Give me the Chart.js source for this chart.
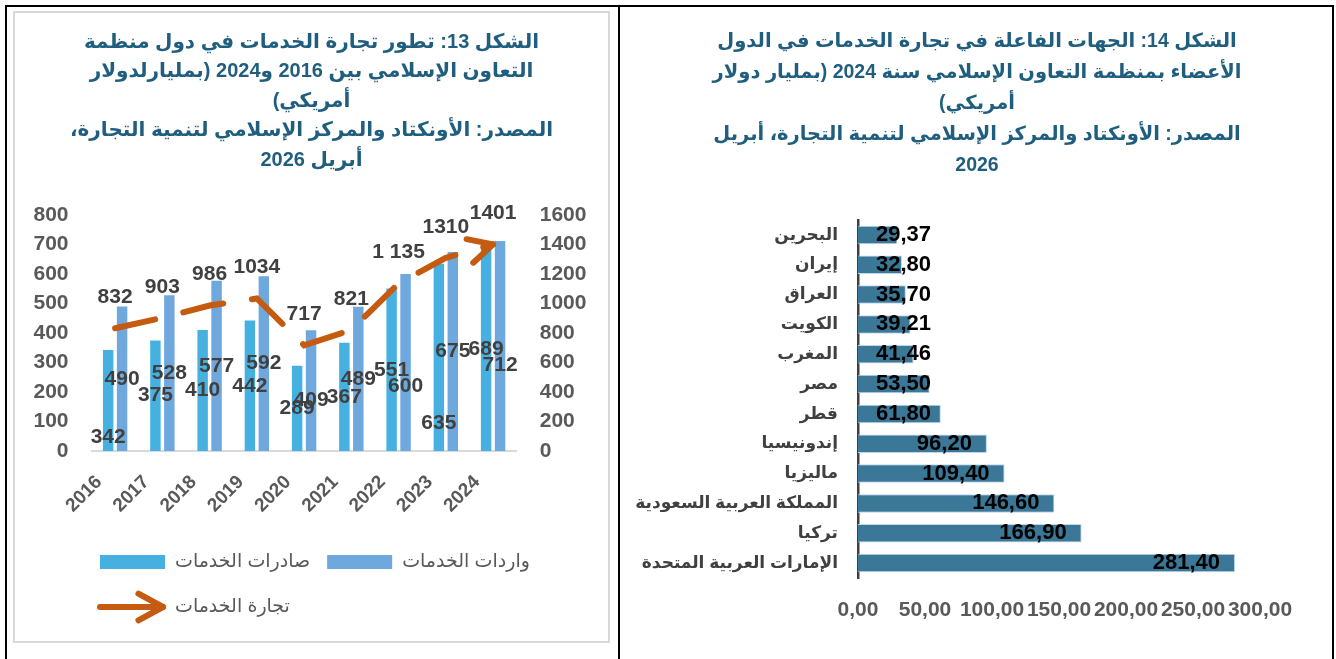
<!DOCTYPE html>
<html lang="ar">
<head>
<meta charset="utf-8">
<script src="https://cdn.jsdelivr.net/npm/chart.js@4.4.1/dist/chart.umd.min.js"></script>
<style>
  html, body { margin: 0; padding: 0; background: #fff; }
  body { width: 1336px; height: 659px; position: relative; overflow: hidden; }
  .frame { position: absolute; left: 5px; top: 5px; width: 1329px; height: 720px; border: 2px solid #000; border-bottom: none; box-sizing: border-box; }
  .divider { position: absolute; left: 618px; top: 5px; width: 2px; height: 720px; background: #000; }
  .box { position: absolute; left: 13px; top: 11px; width: 597px; height: 632px; border: 2px solid #d9d9d9; box-sizing: border-box; }
  canvas { position: absolute; direction: rtl; }
  #leftChart { left: 15px; top: 13px; }
  #rightChart { left: 622px; top: 8px; }
</style>
</head>
<body>
<div class="frame"></div>
<div class="divider"></div>
<div class="box"></div>
<canvas id="leftChart" width="593" height="628"></canvas>
<canvas id="rightChart" width="710" height="651"></canvas>
<script>
const FONT = "'Liberation Sans', 'DejaVu Sans', sans-serif";
Chart.defaults.font.family = FONT;

// figure 13 data
const years = ['2016', '2017', '2018', '2019', '2020', '2021', '2022', '2023', '2024'];
const serviceExports = [342, 375, 410, 442, 289, 367, 551, 635, 689];
const serviceImports = [490, 528, 577, 592, 409, 489, 600, 675, 712];
const serviceTrade = [832, 903, 986, 1034, 717, 821, 1135, 1310, 1401];
const tradeLabels = ['832', '903', '986', '1034', '717', '821', '1 135', '1310', '1401'];

const leftTitle = [
    'الشكل 13: تطور تجارة الخدمات في دول منظمة',
    'التعاون الإسلامي بين 2016 و2024 (بمليارلدولار',
    'أمريكي)',
    'المصدر: الأونكتاد والمركز الإسلامي لتنمية التجارة،',
    'أبريل 2026'
];

// figure 14 data
const countries = ['البحرين', 'إيران', 'العراق', 'الكويت', 'المغرب', 'مصر', 'قطر',
    'إندونيسيا', 'ماليزيا', 'المملكة العربية السعودية', 'تركيا', 'الإمارات العربية المتحدة'];
const countryValues = [29.37, 32.80, 35.70, 39.21, 41.46, 53.50, 61.80, 96.20, 109.40, 146.60, 166.90, 281.40];

const rightTitle = [
    'الشكل 14: الجهات الفاعلة في تجارة الخدمات في الدول',
    'الأعضاء بمنظمة التعاون الإسلامي سنة 2024 (بمليار دولار',
    'أمريكي)',
    'المصدر: الأونكتاد والمركز الإسلامي لتنمية التجارة، أبريل',
    '2026'
];

const TITLE_COLOR = '#1F5E7E';
const commaNum = v => Number(v).toFixed(2).replace('.', ',');

function drawChevron(ctx, x, y, angle, len, spread) {
    ctx.beginPath();
    ctx.moveTo(x + len * Math.cos(angle + Math.PI - spread), y + len * Math.sin(angle + Math.PI - spread));
    ctx.lineTo(x, y);
    ctx.lineTo(x + len * Math.cos(angle + Math.PI + spread), y + len * Math.sin(angle + Math.PI + spread));
    ctx.stroke();
}

// labels, arrow head and legend of figure 13
const leftExtras = {
    id: 'leftExtras',
    afterDatasetsDraw(chart, args, opts) {
        const ctx = chart.ctx;
        ctx.save();
        ctx.direction = 'ltr';
        ctx.font = `bold 21px ${FONT}`;
        ctx.fillStyle = '#404040';
        ctx.textAlign = 'center';
        ctx.textBaseline = 'middle';
        [0, 1].forEach(di => {
            const nudge = opts.nudge[di] || {};
            chart.getDatasetMeta(di).data.forEach((bar, i) => {
                const v = chart.data.datasets[di].data[i];
                ctx.fillText(String(v), bar.x, (bar.y + bar.base) / 2 + (nudge[i] || 0));
            });
        });
        const pts = chart.getDatasetMeta(2).data;
        pts.forEach((p, i) => ctx.fillText(tradeLabels[i], p.x, p.y - 31));

        // arrow head on the last point of the trade line
        const a = pts[pts.length - 2], b = pts[pts.length - 1];
        ctx.strokeStyle = '#C55A11';
        ctx.lineWidth = 6;
        ctx.lineCap = 'round';
        ctx.lineJoin = 'round';
        drawChevron(ctx, b.x, b.y, Math.atan2(b.y - a.y, b.x - a.x), 27, 0.47);
        ctx.restore();
    },
    afterDraw(chart) {
        const {ctx, chartArea} = chart;
        const ds = chart.data.datasets;
        ctx.save();
        ctx.font = `19px ${FONT}`;
        ctx.textAlign = 'left';
        ctx.textBaseline = 'middle';
        let x = chartArea.left + 8.5;
        const y1 = chartArea.bottom + 111;
        [0, 1].forEach(di => {
            ctx.fillStyle = ds[di].backgroundColor;
            ctx.fillRect(x, y1 - 7, 65, 14);
            ctx.fillStyle = '#595959';
            ctx.fillText(ds[di].label, x + 75, y1);
            x += 75 + ctx.measureText(ds[di].label).width + 17;
        });
        const x2 = chartArea.left + 8.5, y2 = chartArea.bottom + 156;
        ctx.strokeStyle = ds[2].borderColor;
        ctx.lineWidth = 6;
        ctx.lineCap = 'round';
        ctx.lineJoin = 'round';
        ctx.beginPath();
        ctx.moveTo(x2, y2);
        ctx.lineTo(x2 + 63, y2);
        ctx.stroke();
        drawChevron(ctx, x2 + 63, y2, 0, 28, 0.5);
        ctx.fillStyle = '#595959';
        ctx.fillText(ds[2].label, x2 + 75, y2);
        ctx.restore();
    }
};

new Chart(document.getElementById('leftChart'), {
    data: {
        labels: years,
        datasets: [
            {
                type: 'bar',
                label: 'صادرات الخدمات',
                data: serviceExports,
                backgroundColor: '#46B1E1',
                yAxisID: 'y',
                order: 2,
                categoryPercentage: 0.59,
                barPercentage: 0.75,
            },
            {
                type: 'bar',
                label: 'واردات الخدمات',
                data: serviceImports,
                backgroundColor: '#6FA8DC',
                yAxisID: 'y',
                order: 2,
                categoryPercentage: 0.59,
                barPercentage: 0.75,
            },
            {
                type: 'line',
                label: 'تجارة الخدمات',
                data: serviceTrade,
                borderColor: '#C55A11',
                borderWidth: 6,
                borderDash: [41, 29],
                borderCapStyle: 'round',
                pointRadius: 0,
                tension: 0,
                yAxisID: 'y2',
                order: 1,
            },
        ],
    },
    options: {
        responsive: false,
        animation: false,
        layout: { padding: { left: 0, right: 0, top: 0, bottom: 110 } },
        plugins: {
            legend: { display: false },
            tooltip: { enabled: false },
            title: {
                display: true,
                text: leftTitle,
                color: TITLE_COLOR,
                font: { size: 20, weight: 'bold', lineHeight: 1.475 },
                padding: { top: 14.25, bottom: 40.25 },
            },
            leftExtras: { nudge: { 0: { 0: 37, 7: 66 }, 1: { 4: 10, 6: 24, 8: 19 } } },
        },
        scales: {
            x: {
                grid: { display: false },
                border: { color: '#D9D9D9', width: 2 },
                ticks: {
                    color: '#595959',
                    font: { size: 19, weight: 'bold' },
                    minRotation: 45,
                    maxRotation: 45,
                    padding: 12,
                    labelOffset: -16,
                },
                afterFit(s) { s.height = 80; },
            },
            y: {
                position: 'left',
                min: 0,
                max: 800,
                grid: { display: false, drawTicks: false },
                border: { display: false },
                ticks: { stepSize: 100, color: '#595959', font: { size: 21, weight: 'bold' }, padding: 23, callback: v => String(v) },
                afterFit(s) { s.width = 76.5; },
            },
            y2: {
                position: 'right',
                min: 0,
                max: 1600,
                grid: { display: false, drawTicks: false },
                border: { display: false },
                ticks: { stepSize: 200, color: '#595959', font: { size: 21, weight: 'bold' }, padding: 23, callback: v => String(v) },
                afterFit(s) { s.width = 91.3; },
            },
        },
    },
    plugins: [leftExtras],
});

// value labels of figure 14
const rightLabels = {
    id: 'rightLabels',
    afterDatasetsDraw(chart) {
        const ctx = chart.ctx;
        ctx.save();
        ctx.direction = 'ltr';
        ctx.font = `bold 22px ${FONT}`;
        ctx.fillStyle = '#000';
        ctx.textAlign = 'right';
        ctx.textBaseline = 'middle';
        chart.getDatasetMeta(0).data.forEach((bar, i) => {
            const txt = commaNum(countryValues[i]);
            const w = ctx.measureText(txt).width;
            const right = Math.max(bar.x - 15, bar.base + 18 + w);
            ctx.fillText(txt, right, bar.y);
        });
        ctx.restore();
    }
};

new Chart(document.getElementById('rightChart'), {
    type: 'bar',
    data: {
        labels: countries,
        datasets: [{
            data: countryValues,
            backgroundColor: '#3B7898',
            borderColor: '#BDD7EE',
            borderWidth: 1,
            barPercentage: 0.62,
            categoryPercentage: 1,
        }],
    },
    options: {
        indexAxis: 'y',
        responsive: false,
        animation: false,
        layout: { padding: { left: 0, right: 0, top: 0, bottom: 21 } },
        plugins: {
            legend: { display: false },
            tooltip: { enabled: false },
            title: {
                display: true,
                text: rightTitle,
                color: TITLE_COLOR,
                font: { size: 19.5, weight: 'bold', lineHeight: 1.59 },
                padding: { top: 18.5, bottom: 38.5 },
            },
        },
        scales: {
            x: {
                min: 0,
                max: 300,
                grid: { display: false, drawTicks: false },
                border: { display: false },
                ticks: {
                    stepSize: 50,
                    autoSkip: false,
                    minRotation: 0,
                    maxRotation: 0,
                    color: '#595959',
                    font: { size: 21, weight: 'bold' },
                    padding: 20,
                    callback: v => commaNum(v),
                },
                afterFit(s) { s.height = 60; },
            },
            y: {
                grid: { display: false, drawTicks: false },
                border: { color: '#404040', width: 2.5 },
                ticks: { color: '#404040', font: { size: 17, weight: 'bold' }, padding: 20, autoSkip: false },
                afterFit(s) { s.width = 236; },
            },
            // empty spacer on the right so the plot ends where the reference does
            spacer: {
                type: 'linear',
                position: 'right',
                grid: { display: false },
                border: { display: false },
                ticks: { display: false },
                afterFit(s) { s.width = 72; },
            },
        },
    },
    plugins: [rightLabels],
});
</script>
</body>
</html>
